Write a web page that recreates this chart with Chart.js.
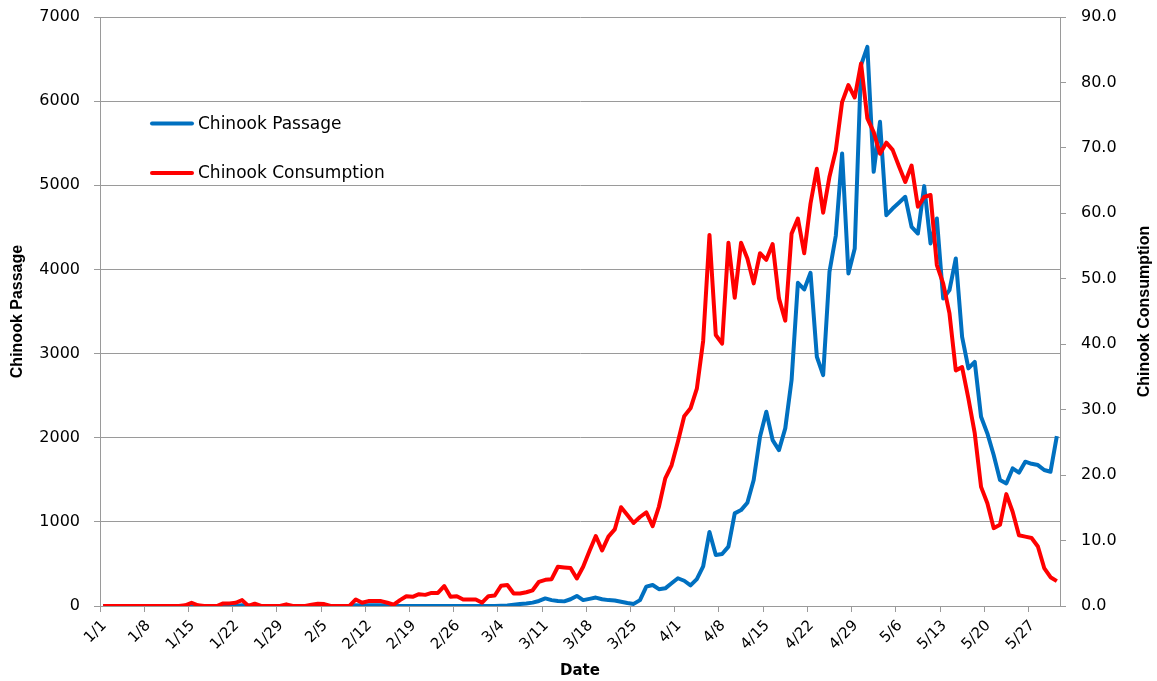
<!DOCTYPE html>
<html>
<head>
<meta charset="utf-8">
<title>Chinook Passage and Consumption</title>
<script src="https://cdn.jsdelivr.net/npm/chart.js@4.4.1/dist/chart.umd.min.js"></script>
<style>
  html, body { margin: 0; padding: 0; background: #fff; }
  #chart { display: block; }
</style>
</head>
<body>
<canvas id="chart" width="1157" height="681"></canvas>
<script>
// days 1/1 .. 5/31 (leap year, so 2/29 is in there)
const monthLengths = [31, 29, 31, 30, 31];
const dates = [];
monthLengths.forEach(function(len, m) {
    for (let d = 1; d <= len; d++) dates.push((m + 1) + '/' + d);
});
const labelEvery = 7;

// fish counts, left axis
const passage = [
    0, 0, 0, 0, 0, 0, 0, 0, 0, 0,
    0, 0, 0, 0, 0, 0, 0, 0, 0, 0,
    0, 0, 10, 5, 0, 0, 0, 0, 0, 0,
    0, 0, 0, 0, 0, 0, 0, 0, 0, 0,
    10, 5, 10, 10, 10, 5, 0, 0, 0, 0,
    0, 0, 0, 0, 0, 0, 0, 0, 0, 0,
    0, 0, 0, 2, 5, 15, 25, 30, 40, 60,
    90, 70, 60, 55, 80, 120, 70, 85, 100, 80,
    70, 65, 50, 35, 25, 70, 230, 250, 200, 210,
    270, 330, 300, 245, 320, 470, 880, 606, 618, 705,
    1101, 1140, 1227, 1497, 2012, 2309, 1972, 1853, 2111, 2685,
    3841, 3762, 3960, 2962, 2744, 3970, 4400, 5378, 3952, 4249,
    6427, 6645, 5160, 5754, 4645, 4724, 4792, 4863, 4506, 4427,
    4990, 4309, 4606, 3655, 3754, 4130, 3199, 2824, 2902, 2249,
    2051, 1794, 1497, 1457, 1635, 1584, 1715, 1690, 1675, 1616,
    1596, 2020
];

// consumption, right axis
const consumption = [
    0, 0, 0, 0, 0, 0, 0, 0, 0, 0,
    0, 0, 0, 0.1, 0.5, 0.1, 0, 0, 0, 0.4,
    0.4, 0.5, 0.9, 0, 0.35, 0, 0, 0, 0, 0.25,
    0, 0, 0, 0.2, 0.35, 0.3, 0, 0, 0, 0,
    1.0, 0.5, 0.75, 0.75, 0.75, 0.5, 0.2, 0.9, 1.5, 1.4,
    1.8, 1.7, 2.0, 2.0, 3.05, 1.4, 1.5, 1.0, 1.0, 1.0,
    0.5, 1.5, 1.6, 3.1, 3.2, 1.9, 1.9, 2.1, 2.4, 3.7,
    4.0, 4.1, 6.0, 5.9, 5.8, 4.2, 6.0, 8.4, 10.7, 8.5,
    10.6, 11.7, 15.1, 13.9, 12.7, 13.6, 14.3, 12.2, 15.2, 19.5,
    21.5, 25.1, 29.0, 30.2, 33.2, 40.5, 56.7, 41.4, 40.1, 55.5,
    47.1, 55.5, 53.1, 49.3, 53.9, 52.9, 55.3, 47.0, 43.6, 56.9,
    59.2, 53.9, 61.5, 66.8, 60.1, 65.6, 69.6, 77.0, 79.6, 77.7,
    82.9, 74.5, 72.4, 69.1, 70.8, 69.7, 67.2, 64.8, 67.3, 61.0,
    62.5, 62.8, 52.1, 49.3, 44.7, 36.0, 36.5, 31.7, 26.4, 18.2,
    15.7, 11.9, 12.4, 17.1, 14.4, 10.8, 10.6, 10.4, 9.1, 5.8,
    4.4, 3.8
];

const GRID = '#9a9a9a';
const BLUE = '#0070c0';
const RED = '#ff0000';

Chart.defaults.font.family = '"DejaVu Sans", sans-serif';
Chart.defaults.color = '#000';

// legend sits inside the plot, top left, like the excel one
const plotLegend = {
    id: 'plotLegend',
    afterDatasetsDraw(chart) {
        const ctx = chart.ctx;
        const rows = [123.5, 173];
        ctx.save();
        chart.data.datasets.forEach(function(ds, i) {
            ctx.strokeStyle = ds.borderColor;
            ctx.lineWidth = 4;
            ctx.lineCap = 'round';
            ctx.beginPath();
            ctx.moveTo(152, rows[i]);
            ctx.lineTo(192, rows[i]);
            ctx.stroke();
            ctx.fillStyle = '#000';
            ctx.font = '17px "DejaVu Sans"';
            ctx.textBaseline = 'middle';
            ctx.fillText(ds.label, 198, rows[i] + 1);
        });
        // right axis title reads bottom to top, chart.js would turn it the other way
        const y1 = chart.scales.y1;
        ctx.translate(1145, (y1.top + y1.bottom) / 2);
        ctx.rotate(-Math.PI / 2);
        ctx.font = 'bold 16px "Liberation Sans"';
        ctx.textAlign = 'center';
        ctx.fillText('Chinook Consumption', 0, 0);
        ctx.restore();
    }
};

// fixed box sizes so the plot lands where the excel one is
function fixBox(size) {
    return function(s) {
        if (s.isHorizontal()) s.height = size; else s.width = size;
        s.paddingTop = 0;
        s.paddingBottom = 0;
    };
}

const ctx = document.getElementById('chart').getContext('2d');
const chart = new Chart(ctx, {
    type: 'line',
    data: {
        labels: dates,
        datasets: [{
            label: 'Chinook Passage',
            data: passage,
            yAxisID: 'y',
            borderColor: BLUE,
            backgroundColor: BLUE,
            borderWidth: 4,
            pointRadius: 0,
            tension: 0,
            borderJoinStyle: 'round',
            order: 1
        }, {
            label: 'Chinook Consumption',
            data: consumption,
            yAxisID: 'y1',
            borderColor: RED,
            backgroundColor: RED,
            borderWidth: 4,
            pointRadius: 0,
            tension: 0,
            borderJoinStyle: 'round',
            order: 0
        }]
    },
    options: {
        responsive: false,
        animation: false,
        devicePixelRatio: 1,
        layout: { padding: { top: 17, left: 0, right: 0, bottom: 0 } },
        plugins: {
            legend: { display: false },
            tooltip: { enabled: false }
        },
        scales: {
            x: {
                type: 'category',
                offset: true,
                grid: {
                    offset: true,
                    drawOnChartArea: false,
                    tickLength: 6,
                    color: function(c) { return c.index % labelEvery === 0 ? GRID : 'rgba(0,0,0,0)'; }
                },
                border: { color: GRID },
                ticks: {
                    autoSkip: false,
                    minRotation: 45,
                    maxRotation: 45,
                    padding: 5,
                    labelOffset: 1,
                    font: { size: 15 },
                    callback: function(val, i) { return i % labelEvery === 0 ? dates[i] : ''; }
                },
                title: {
                    display: true,
                    text: 'Date',
                    font: { size: 15, weight: 'bold' },
                    padding: { top: 0, bottom: 1 }
                },
                afterFit: fixBox(75)
            },
            y: {
                position: 'left',
                min: 0,
                max: 7000,
                ticks: {
                    stepSize: 1000,
                    padding: 14,
                    font: { size: 16 },
                    callback: function(v) { return String(v); }
                },
                grid: { color: GRID, tickLength: 6 },
                border: { color: GRID },
                title: {
                    display: true,
                    text: 'Chinook Passage',
                    font: { family: '"Liberation Sans"', size: 16, weight: 'bold' },
                    padding: { top: 8, bottom: 0 }
                },
                afterFit: fixBox(100)
            },
            y1: {
                position: 'right',
                min: 0,
                max: 90,
                ticks: {
                    stepSize: 10,
                    padding: 15,
                    font: { size: 16 },
                    callback: function(v) { return v.toFixed(1); }
                },
                grid: { drawOnChartArea: false, color: GRID, tickLength: 6 },
                border: { color: GRID },
                afterFit: fixBox(97)
            }
        }
    },
    plugins: [plotLegend]
});
</script>
</body>
</html>
